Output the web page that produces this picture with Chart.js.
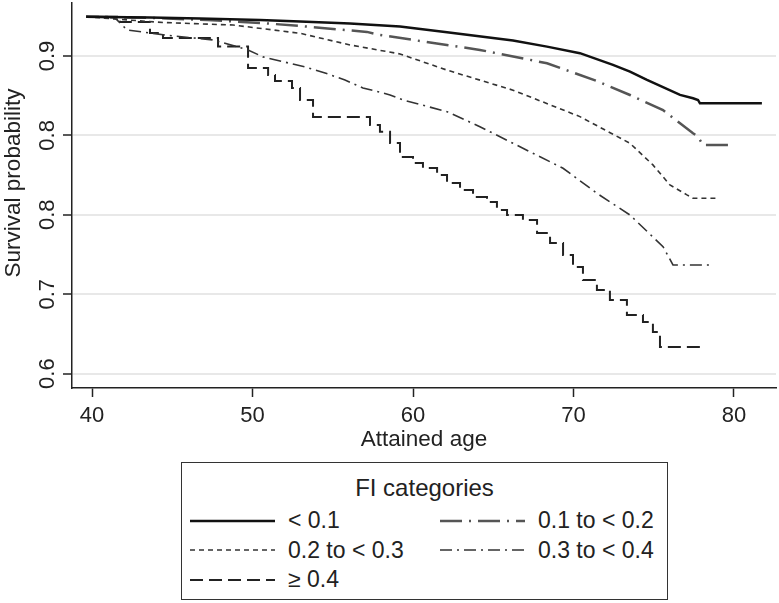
<!DOCTYPE html>
<html>
<head>
<meta charset="utf-8">
<script src="https://cdn.jsdelivr.net/npm/chart.js@4.4.1/dist/chart.umd.min.js"></script>
<style>
  body { margin: 0; background: #fff; font-family: 'Liberation Sans', Arial, sans-serif; color: #222; }
  #wrap { position: relative; width: 779px; height: 603px; }
  #legend { position: absolute; left: 181px; top: 462px; width: 487px; height: 138px; box-sizing: border-box;
            border: 1.2px solid #333; font-size: 23px; }
  #legend .title { text-align: center; height: 43px; line-height: 42px; padding-top: 4px; box-sizing: border-box; font-size: 24px; }
  #legend .rows { display: grid; grid-template-columns: 250px 1fr; grid-auto-rows: 29.5px; }
  #legend .item { display: flex; align-items: center; padding-left: 8px; white-space: nowrap; }
  #legend svg { width: 85px; height: 10px; margin-right: 13px; flex: none; }
</style>
</head>
<body>
<div id="wrap">
  <canvas id="grafico" width="779" height="455"></canvas>
  <div id="legend"><div class="title">FI categories</div><div class="rows" id="legendRows"></div></div>
</div>
<script>
const categories = ['< 0.1', '0.1 to < 0.2', '0.2 to < 0.3', '0.3 to < 0.4', '≥ 0.4'];

// attained age and survival, one pair of arrays per FI category
const ageLt01 = [39.63, 43.61, 46.73, 50.47, 52.96, 56.07, 59.19, 62.12, 66.23, 68.35, 70.40, 72.46, 73.52, 74.58, 76.64, 77.45, 77.76, 77.88, 81.74];
const survLt01 = [0.9371, 0.9364, 0.9354, 0.9340, 0.9326, 0.9307, 0.9277, 0.9224, 0.9145, 0.9088, 0.9026, 0.8915, 0.8852, 0.8773, 0.8632, 0.8600, 0.8584, 0.8553, 0.8553];

const age01to02 = [39.63, 43.61, 47.17, 50.47, 52.96, 57.13, 57.94, 64.17, 68.35, 71.46, 73.52, 75.58, 76.64, 77.45, 77.76, 78.07, 79.69];
const surv01to02 = [0.9371, 0.9359, 0.9340, 0.9312, 0.9283, 0.9227, 0.9198, 0.9057, 0.8931, 0.8763, 0.8631, 0.8489, 0.8364, 0.8270, 0.8238, 0.8159, 0.8159];

const age02to03 = [39.63, 41.74, 44.42, 48.79, 52.96, 56.07, 59.19, 62.12, 66.23, 70.40, 73.52, 74.95, 76.01, 77.07, 77.45, 78.94];
const surv02to03 = [0.9371, 0.9345, 0.9316, 0.9292, 0.9214, 0.9104, 0.9019, 0.8866, 0.8677, 0.8427, 0.8175, 0.7971, 0.7782, 0.7688, 0.7656, 0.7656];

const age03to04 = [39.63, 41.43, 42.18, 44.55, 47.54, 49.72, 50.65, 53.27, 54.52, 55.76, 56.88, 58.57, 59.38, 62.12, 64.17, 66.23, 69.35, 71.46, 73.52, 75.58, 76.20, 78.69];
const surv03to04 = [0.9371, 0.9359, 0.9246, 0.9198, 0.9151, 0.9057, 0.8991, 0.8896, 0.8839, 0.8773, 0.8698, 0.8632, 0.8584, 0.8474, 0.8332, 0.8175, 0.7939, 0.7703, 0.7498, 0.7199, 0.7026, 0.7026];

const ageGe04 = [39.63, 41.74, 43.61, 44.42, 47.85, 49.72, 50.97, 51.40, 52.46, 52.96, 53.77, 57.32, 57.94, 58.57, 59.19, 60.00, 60.62, 61.50, 62.12, 62.93, 63.74, 64.61, 65.23, 65.86, 66.85, 67.73, 68.54, 69.35, 69.97, 70.59, 71.46, 72.27, 73.33, 74.33, 74.95, 75.39, 77.88];
const survGe04 = [0.9371, 0.9321, 0.9217, 0.9170, 0.9088, 0.8887, 0.8821, 0.8764, 0.8698, 0.8584, 0.8424, 0.8348, 0.8285, 0.8178, 0.8046, 0.7989, 0.7942, 0.7876, 0.7800, 0.7734, 0.7668, 0.7621, 0.7546, 0.7498, 0.7451, 0.7328, 0.7234, 0.7120, 0.7007, 0.6884, 0.6790, 0.6696, 0.6554, 0.6487, 0.6393, 0.6252, 0.6252];

const xTickValues = [40, 50, 60, 70, 80];
const yTickValues = [0.6, 0.675, 0.75, 0.825, 0.9];
const yTickLabels = ['0.6', '0.7', '0.8', '0.8', '0.9'];

const ages = [ageLt01, age01to02, age02to03, age03to04, ageGe04];
const survs = [survLt01, surv01to02, surv02to03, surv03to04, survGe04];

const estilos = [
    { color: '#111', width: 2.5, dash: [], stepped: false },
    { color: '#555', width: 2.5, dash: [22, 7, 2, 7], stepped: false },
    { color: '#333', width: 1.6, dash: [5, 4], stepped: false },
    { color: '#333', width: 1.6, dash: [12, 5, 2, 5], stepped: false },
    { color: '#222', width: 2, dash: [13, 6], stepped: true }
];

const fonte = { family: "'Liberation Sans', Arial, sans-serif", size: 22 };
const fonteTitulo = { family: "'Liberation Sans', Arial, sans-serif", size: 22.5 };

// título do eixo y desenhado à mão, está um pouco acima do centro no original
const tituloY = {
    id: 'tituloY',
    afterDraw(chart) {
        const c = chart.ctx;
        c.save();
        c.translate(14, 183);
        c.rotate(-Math.PI / 2);
        c.font = fonteTitulo.size + 'px ' + fonteTitulo.family;
        c.fillStyle = '#222';
        c.textAlign = 'center';
        c.textBaseline = 'middle';
        c.fillText('Survival probability', 0, 0);
        c.restore();
    }
};

document.addEventListener('DOMContentLoaded', function () {
    const datasets = categories.map((nome, i) => ({
        label: nome,
        data: ages[i].map((a, k) => ({ x: a, y: survs[i][k] })),
        borderColor: estilos[i].color,
        borderWidth: estilos[i].width,
        borderDash: estilos[i].dash,
        stepped: estilos[i].stepped,
        pointRadius: 0,
        fill: false,
        tension: 0
    }));

    new Chart(document.getElementById('grafico'), {
        type: 'line',
        data: { datasets: datasets },
        options: {
            responsive: false,
            animation: false,
            layout: { padding: { top: 3, right: 3, left: 0, bottom: 0 } },
            plugins: { legend: { display: false }, tooltip: { enabled: false } },
            scales: {
                x: {
                    type: 'linear',
                    min: 38.75,
                    max: 82.62,
                    afterBuildTicks: s => { s.ticks = xTickValues.map(v => ({ value: v })); },
                    afterFit: s => { s.height = 67; s.paddingLeft = 0; s.paddingRight = 0; },
                    ticks: { color: '#222', font: fonte, padding: 6, maxRotation: 0, callback: v => v },
                    grid: { drawOnChartArea: false, tickLength: 9, tickColor: '#222', tickWidth: 1.5 },
                    border: { color: '#222', width: 1.5 },
                    title: { display: true, text: 'Attained age', color: '#222', font: fonteTitulo, padding: { top: 0, bottom: 2 } }
                },
                y: {
                    type: 'linear',
                    min: 0.5864,
                    max: 0.95,
                    afterBuildTicks: s => { s.ticks = yTickValues.map(v => ({ value: v })); },
                    afterFit: s => { s.width = 72; s.paddingTop = 0; s.paddingBottom = 0; },
                    ticks: {
                        color: '#222', font: fonte, padding: 0, minRotation: 90, maxRotation: 90, crossAlign: 'center',
                        callback: v => yTickLabels[yTickValues.indexOf(v)]
                    },
                    grid: { color: '#e8e8e8', lineWidth: 2, tickLength: 9, tickColor: '#222', tickWidth: 1.5 },
                    border: { color: '#222', width: 1.5 },
                    title: { display: false }
                }
            }
        },
        plugins: [tituloY]
    });

    // legenda em HTML, duas colunas como no original
    const linhas = document.getElementById('legendRows');
    categories.forEach((nome, i) => {
        const item = document.createElement('div');
        item.className = 'item';
        const dash = estilos[i].dash.length ? estilos[i].dash.join(' ') : 'none';
        item.innerHTML = '<svg viewBox="0 0 85 10"><line x1="0" y1="5" x2="85" y2="5" stroke="' + estilos[i].color +
            '" stroke-width="' + estilos[i].width + '" stroke-dasharray="' + dash + '"/></svg><span></span>';
        item.querySelector('span').textContent = nome;
        linhas.appendChild(item);
    });
});
</script>
</body>
</html>
